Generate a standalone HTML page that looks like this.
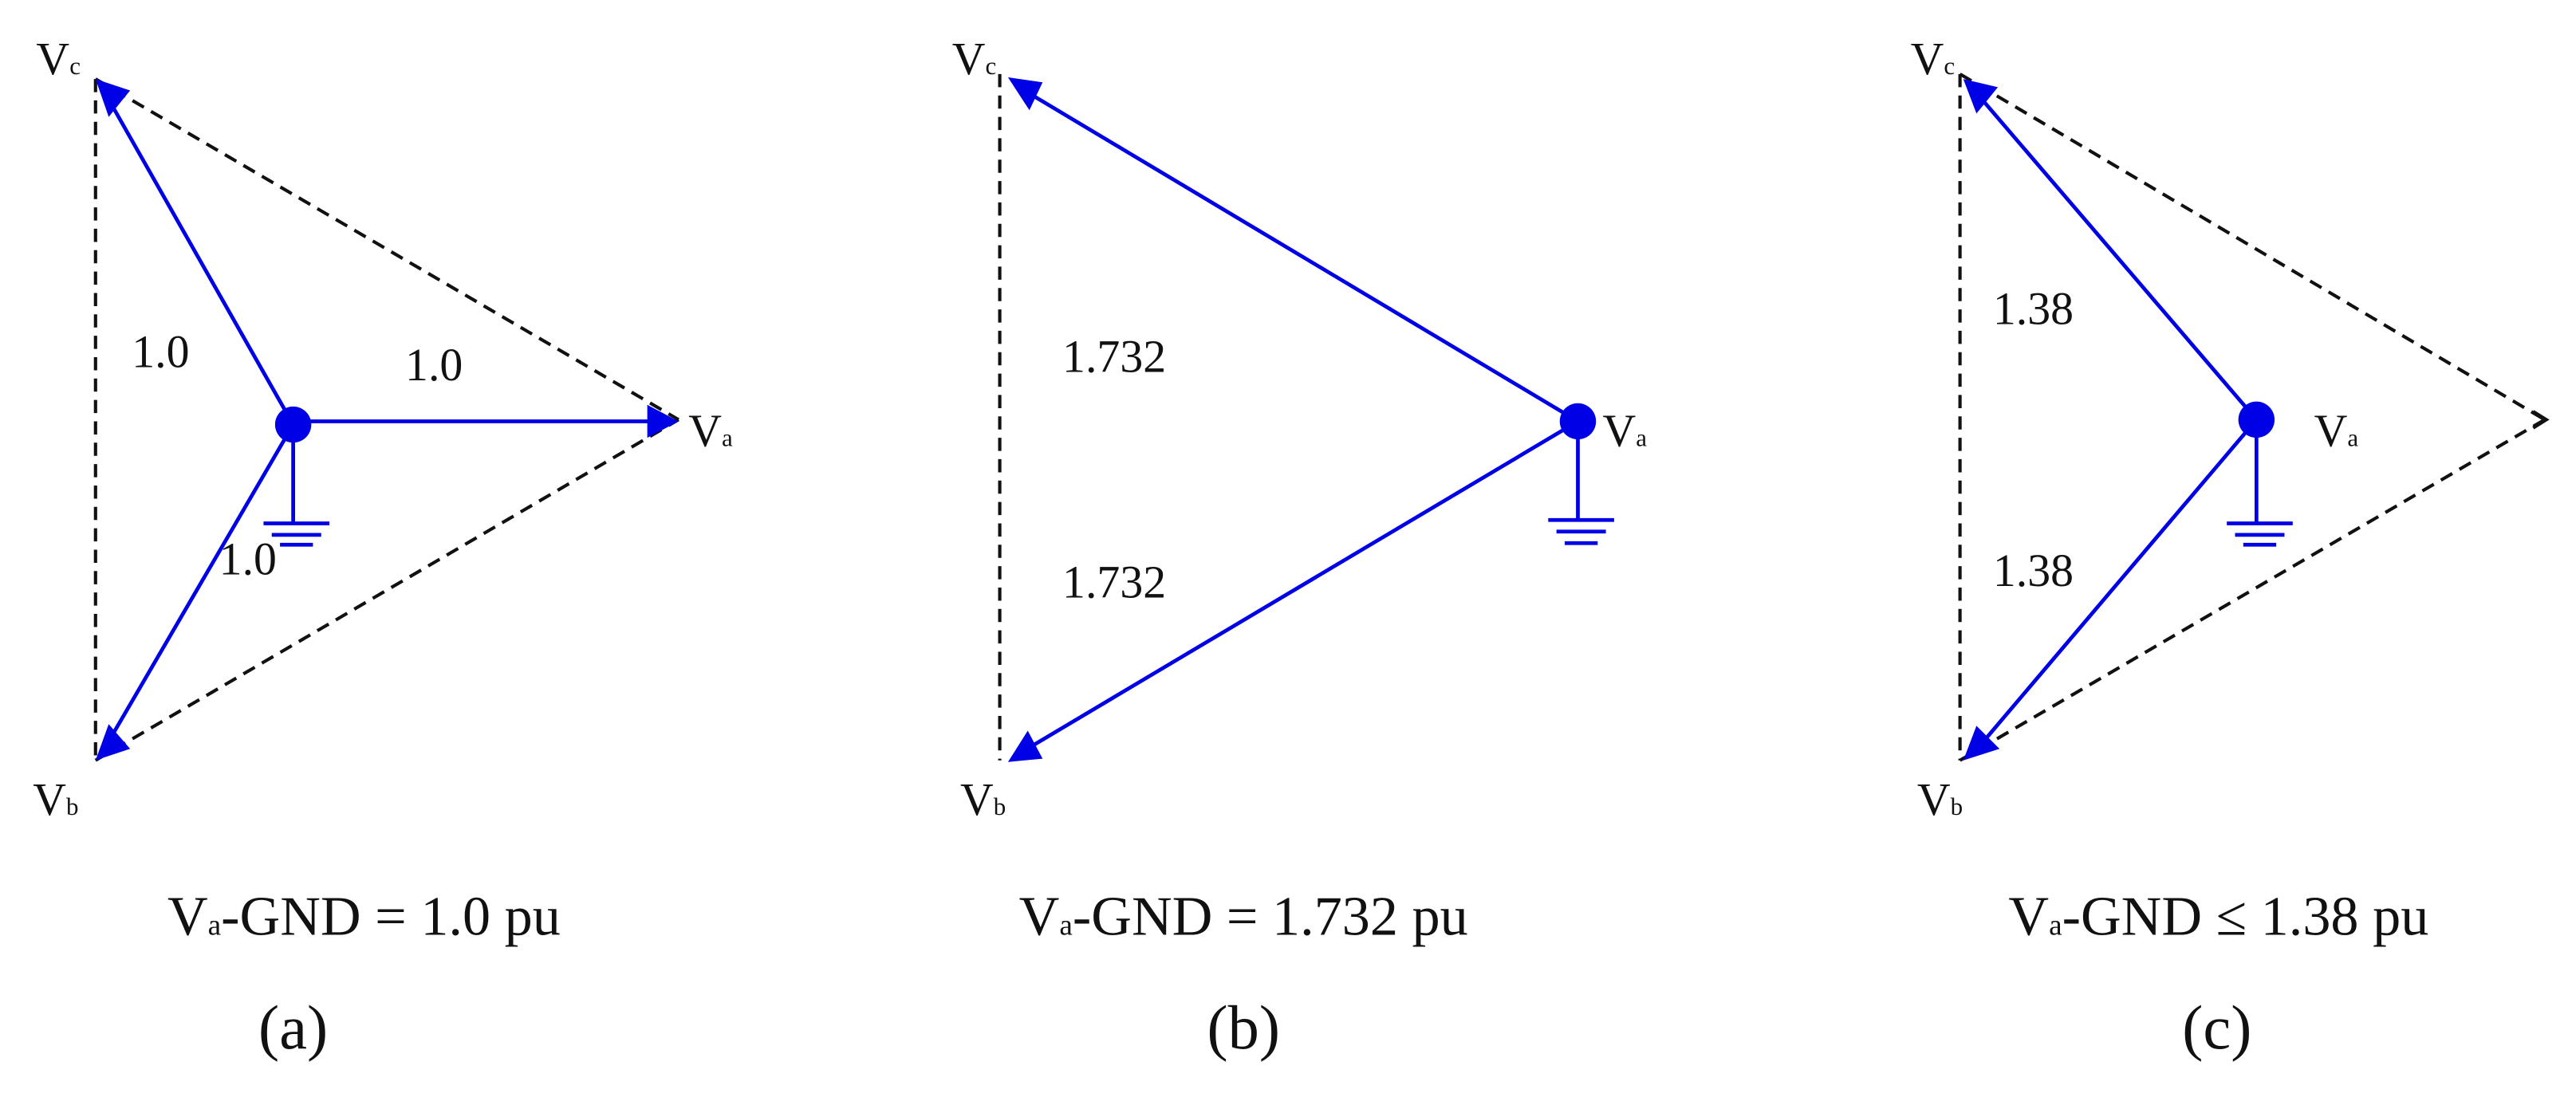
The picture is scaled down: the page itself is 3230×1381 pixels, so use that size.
<!DOCTYPE html>
<html><head><meta charset="utf-8"><style>
html,body{margin:0;padding:0;background:#fff;width:3230px;height:1381px;overflow:hidden}
svg{display:block}
text{font-family:"Liberation Serif",serif;fill:#111}
</style></head><body>
<svg width="3230" height="1381" viewBox="0 0 1564 669" preserveAspectRatio="none">
<g fill="none" stroke="#111" stroke-width="2" stroke-dasharray="8,5">
<path d="M58,48 L58,462"/><path d="M58,48 L412,255"/><path d="M58,462 L412,255"/>
<path d="M607,45 L607,462"/>
<path d="M1190,45 L1190,462"/><path d="M1190,45 L1545,255"/><path d="M1190,462 L1545,255"/>
</g>
<g fill="#0000e6">
<polygon points="412,256 393,246 393,266"/>
<polygon points="58,48 79,55 66,71"/>
<polygon points="58,462 66,440 79,455"/>
<polygon points="612,47 633,50 625,67"/>
<polygon points="612,463 624,444 633,461"/>
<polygon points="1192,48 1213,53 1200,69"/>
<polygon points="1192,462 1200,441 1214,455"/>
</g>
<g stroke="#0000e6" stroke-width="2.3" fill="none">
<path d="M178,256 L396,256"/>
<path d="M178,258 L68,64"/><path d="M178,258 L68,447"/>
<path d="M178,258 V318 M160,318 H200 M165,325 H195 M170,331 H190"/>
<path d="M958,256 L622,55"/><path d="M958,256 L622,456"/>
<path d="M958,256 V316 M940,316 H980 M945,323 H975 M950,330 H970"/>
<path d="M1370,255 L1203,60"/><path d="M1370,255 L1203,452"/>
<path d="M1370,255 V318 M1352,318 H1392 M1357,325 H1387 M1362,331 H1382"/>
</g>
<g fill="#0000e6"><circle cx="178" cy="258" r="11"/><circle cx="958" cy="256" r="11"/><circle cx="1370" cy="255" r="11"/></g>
<path d="M1538,250 L1546,255 L1538,260" stroke="#111" stroke-width="2" fill="none"/>
<g font-size="28">
<text x="22" y="45">V<tspan font-size="15">c</tspan></text>
<text x="20" y="495">V<tspan font-size="15">b</tspan></text>
<text x="418" y="271">V<tspan font-size="15">a</tspan></text>
<text x="578" y="45">V<tspan font-size="15">c</tspan></text>
<text x="583" y="495">V<tspan font-size="15">b</tspan></text>
<text x="973" y="271">V<tspan font-size="15">a</tspan></text>
<text x="1160" y="45">V<tspan font-size="15">c</tspan></text>
<text x="1164" y="495">V<tspan font-size="15">b</tspan></text>
<text x="1405" y="271">V<tspan font-size="15">a</tspan></text>
</g>
<g font-size="28">
<text x="80" y="223">1.0</text>
<text x="246" y="231">1.0</text>
<text x="133" y="349">1.0</text>
<text x="645" y="226">1.732</text>
<text x="645" y="363">1.732</text>
<text x="1210" y="197">1.38</text>
<text x="1210" y="356">1.38</text>
</g>
<g font-size="34" text-anchor="middle">
<text x="221" y="568">V<tspan font-size="18">a</tspan>-GND = 1.0 pu</text>
<text x="755" y="568">V<tspan font-size="18">a</tspan>-GND = 1.732 pu</text>
<text x="1347" y="568">V<tspan font-size="18">a</tspan>-GND ≤ 1.38 pu</text>
</g>
<g font-size="38" text-anchor="middle">
<text x="178" y="637">(a)</text>
<text x="755" y="637">(b)</text>
<text x="1346" y="637">(c)</text>
</g>
</svg>
</body></html>
